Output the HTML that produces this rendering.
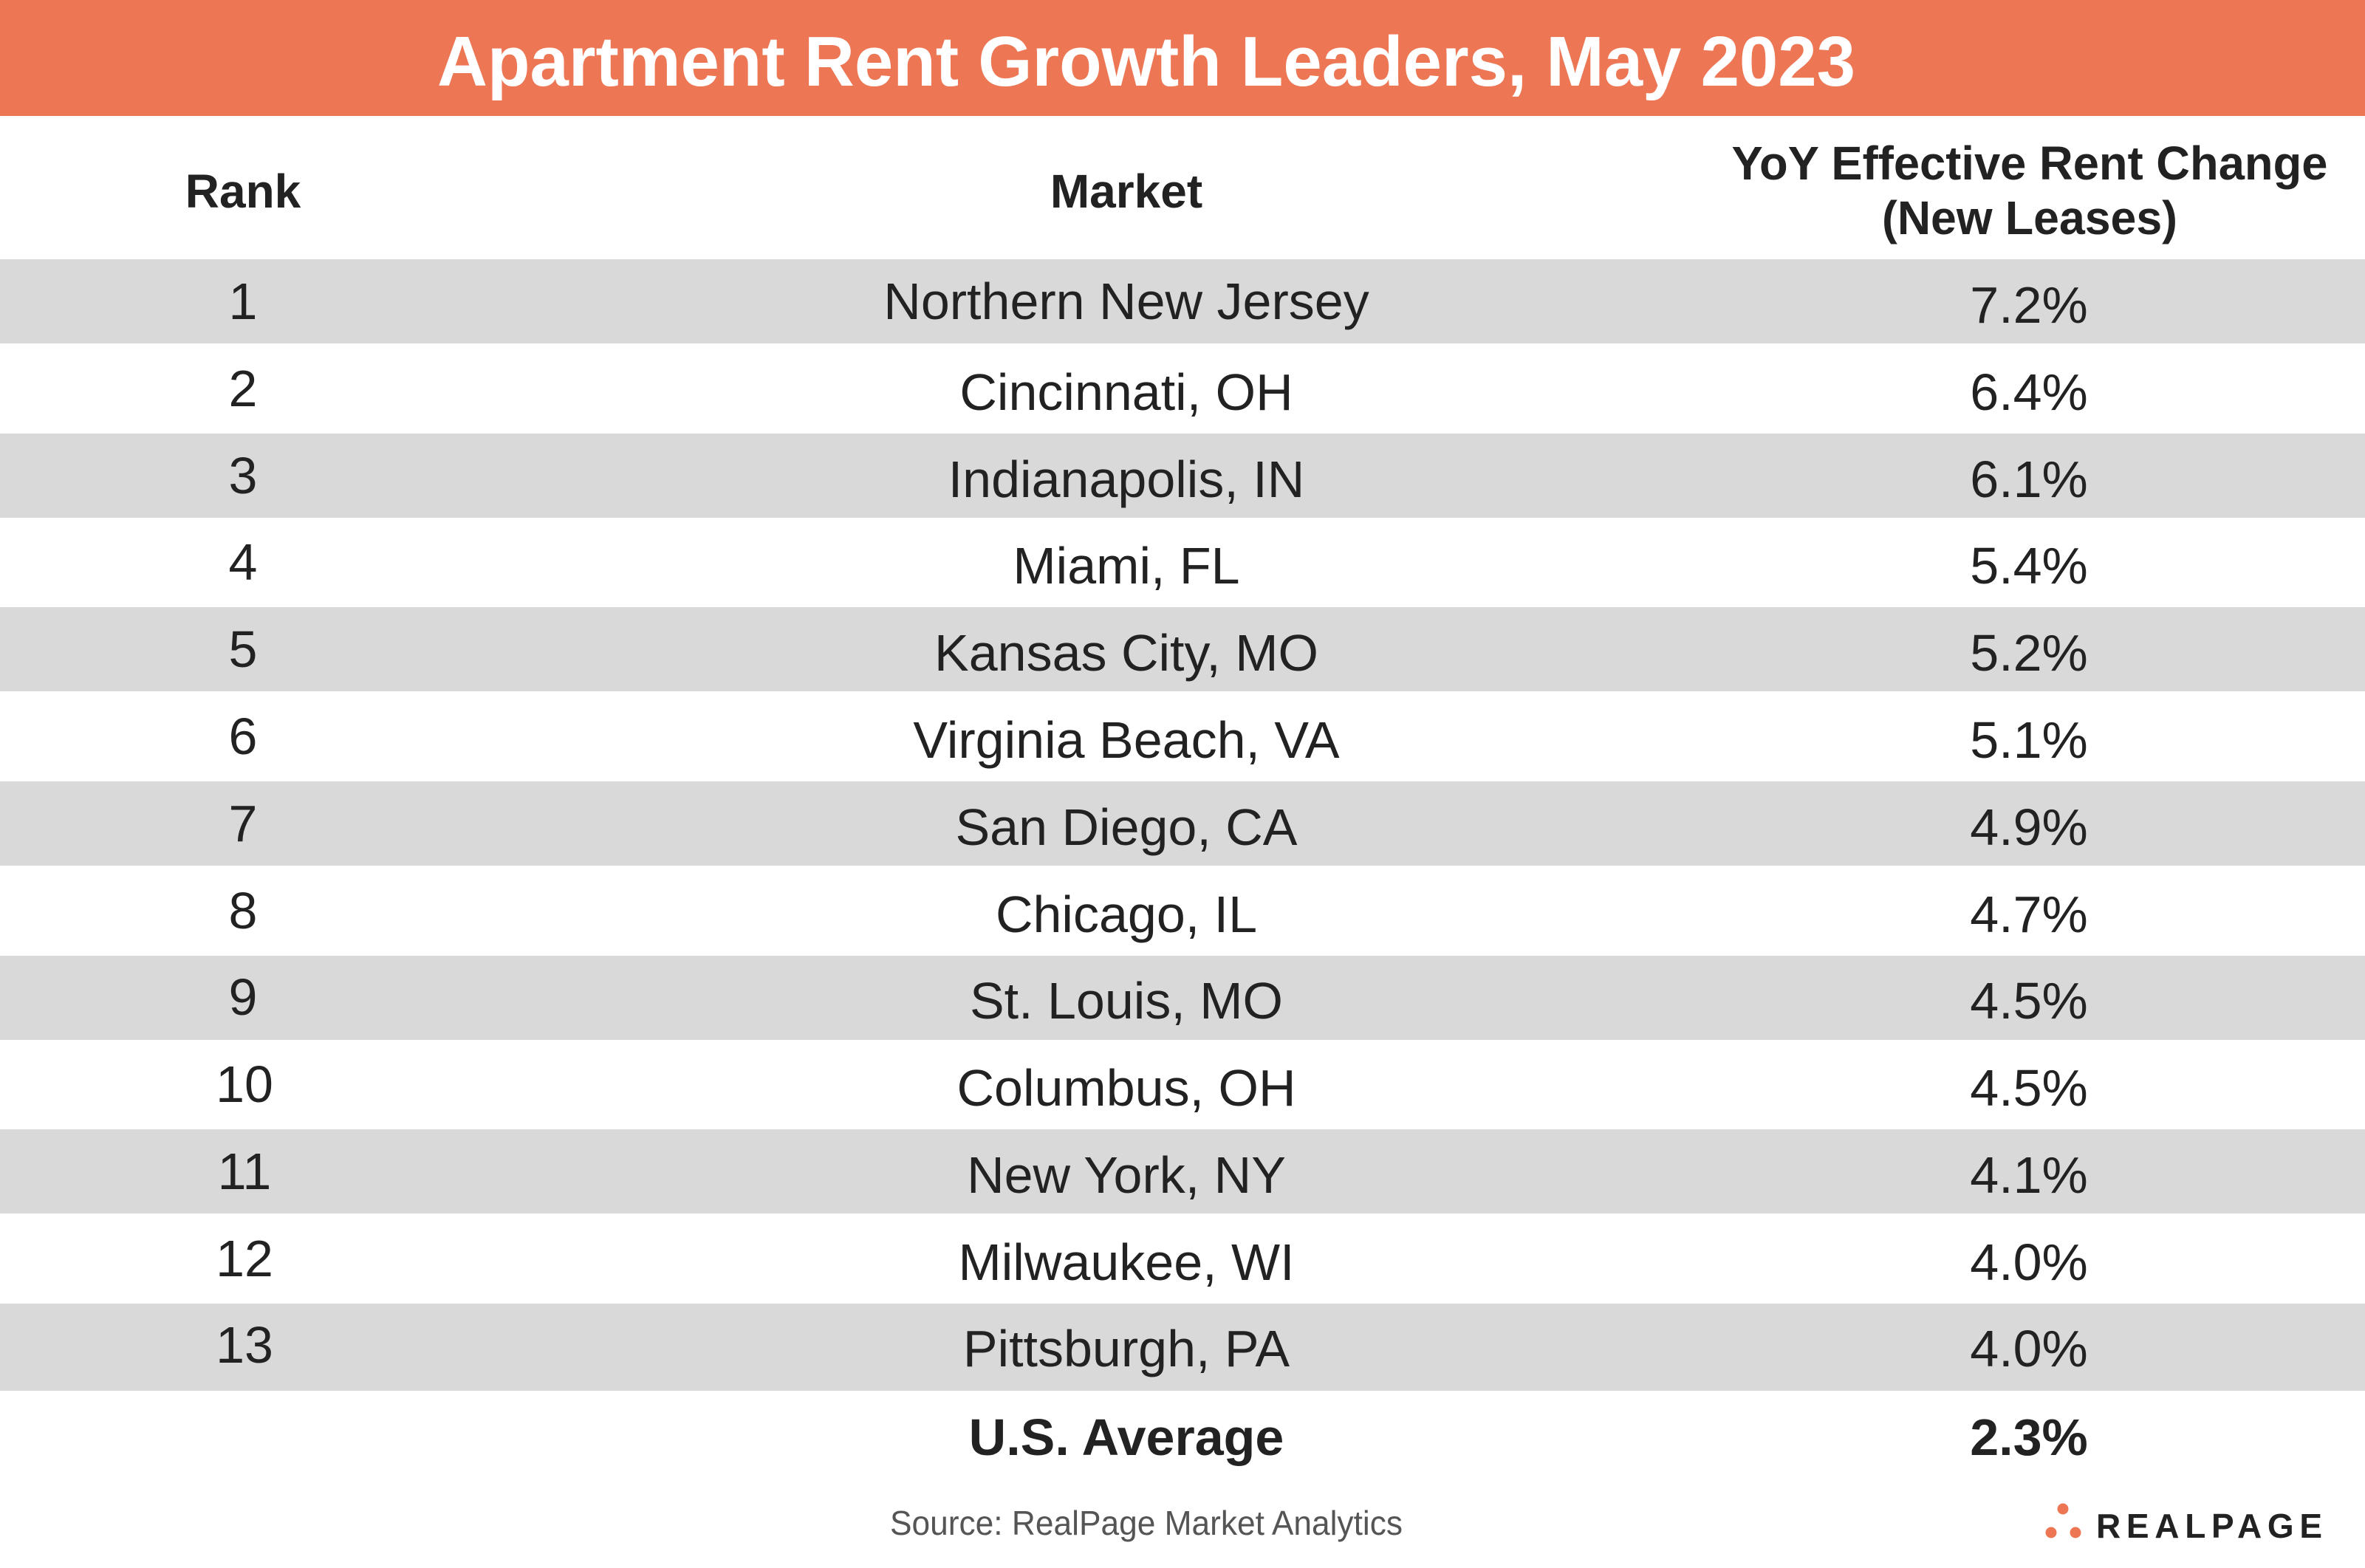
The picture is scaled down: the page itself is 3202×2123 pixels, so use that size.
<!DOCTYPE html>
<html><head><meta charset="utf-8"><style>
html,body{margin:0;padding:0;background:#fff;}
svg{display:block;}
</style></head><body>
<svg width="3202" height="2123" viewBox="0 0 3202 2123" xmlns="http://www.w3.org/2000/svg" font-family="'Liberation Sans', Arial, sans-serif">
<rect x="0" y="0" width="3202" height="2123" fill="#fff"/>
<rect x="0" y="0" width="3202" height="157" fill="#ED7755"/>
<text x="1552" y="116" fill="#fff" font-size="96" font-weight="bold" text-anchor="middle" textLength="1920" lengthAdjust="spacingAndGlyphs">Apartment Rent Growth Leaders, May 2023</text>

<g fill="#222" font-weight="bold" font-size="64" text-anchor="middle">
<text x="329" y="281">Rank</text>
<text x="1525" y="281">Market</text>
<text x="2748" y="243" textLength="807" lengthAdjust="spacingAndGlyphs">YoY Effective Rent Change</text>
<text x="2748" y="317" textLength="400" lengthAdjust="spacingAndGlyphs">(New Leases)</text>
</g>

<g fill="#d9d9d9">
<rect x="0" y="351" width="3202" height="114"/>
<rect x="0" y="587" width="3202" height="114"/>
<rect x="0" y="822" width="3202" height="114"/>
<rect x="0" y="1058" width="3202" height="114"/>
<rect x="0" y="1294" width="3202" height="114"/>
<rect x="0" y="1529" width="3202" height="114"/>
<rect x="0" y="1765" width="3202" height="118"/>
</g>

<g fill="#222" font-size="70" text-anchor="middle">
<text x="329" y="432">1</text><text x="1525" y="432">Northern New Jersey</text><text x="2747" y="437">7.2%</text>
<text x="329" y="550">2</text><text x="1525" y="555">Cincinnati, OH</text><text x="2747" y="555">6.4%</text>
<text x="329" y="668">3</text><text x="1525" y="673">Indianapolis, IN</text><text x="2747" y="673">6.1%</text>
<text x="329" y="785">4</text><text x="1525" y="790">Miami, FL</text><text x="2747" y="790">5.4%</text>
<text x="329" y="903">5</text><text x="1525" y="908">Kansas City, MO</text><text x="2747" y="908">5.2%</text>
<text x="329" y="1021">6</text><text x="1525" y="1026">Virginia Beach, VA</text><text x="2747" y="1026">5.1%</text>
<text x="329" y="1139">7</text><text x="1525" y="1144">San Diego, CA</text><text x="2747" y="1144">4.9%</text>
<text x="329" y="1257">8</text><text x="1525" y="1262">Chicago, IL</text><text x="2747" y="1262">4.7%</text>
<text x="329" y="1374">9</text><text x="1525" y="1379">St. Louis, MO</text><text x="2747" y="1379">4.5%</text>
<text x="331" y="1492">10</text><text x="1525" y="1497">Columbus, OH</text><text x="2747" y="1497">4.5%</text>
<text x="331" y="1610">11</text><text x="1525" y="1615">New York, NY</text><text x="2747" y="1615">4.1%</text>
<text x="331" y="1728">12</text><text x="1525" y="1733">Milwaukee, WI</text><text x="2747" y="1733">4.0%</text>
<text x="331" y="1845">13</text><text x="1525" y="1850">Pittsburgh, PA</text><text x="2747" y="1850">4.0%</text>
</g>
<g fill="#222" font-size="70" font-weight="bold" text-anchor="middle">
<text x="1525" y="1970">U.S. Average</text>
<text x="2747" y="1970">2.3%</text>
</g>

<text x="1552" y="2078" fill="#555" font-size="46" text-anchor="middle" textLength="694" lengthAdjust="spacingAndGlyphs">Source: RealPage Market Analytics</text>

<g fill="#ED7755">
<circle cx="2793" cy="2043" r="7.5"/>
<circle cx="2777" cy="2075" r="7.5"/>
<circle cx="2810" cy="2075" r="7.5"/>
</g>
<text x="2838" y="2082" fill="#222" font-size="46" font-weight="bold" textLength="306" lengthAdjust="spacing">REALPAGE</text>
</svg>
</body></html>
